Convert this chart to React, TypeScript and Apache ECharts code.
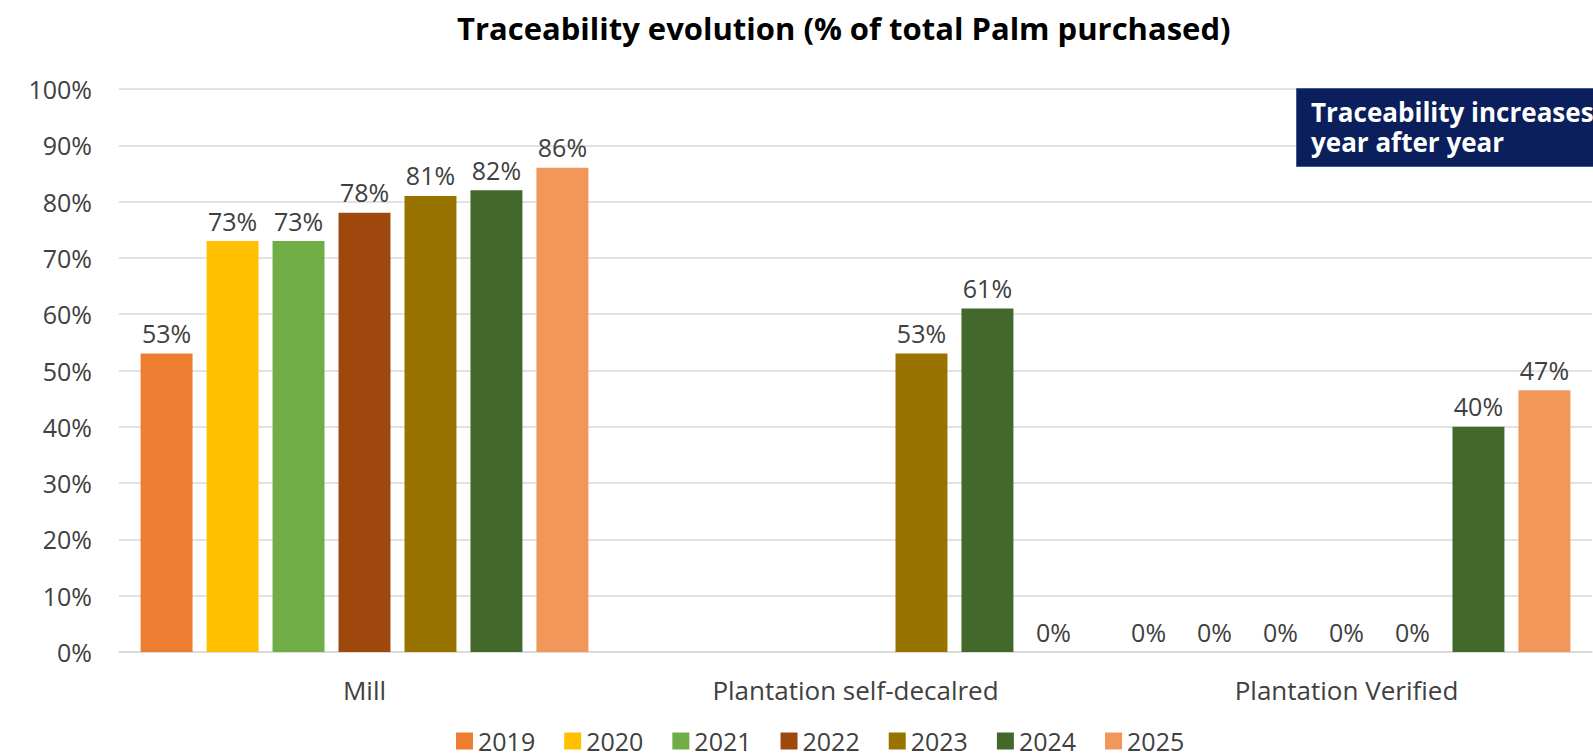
import React, { useEffect, useRef } from "react";
import * as echarts from "echarts";

const categories = ["Mill", "Plantation self-decalred", "Plantation Verified"];
const years = ["2019", "2020", "2021", "2022", "2023", "2024", "2025"];
const v2019 = [53, null, 0];
const v2020 = [73, null, 0];
const v2021 = [73, null, 0];
const v2022 = [78, null, 0];
const v2023 = [81, 53, 0];
const v2024 = [82, 61, 40];
const v2025 = [86, 0, 46.5];
const colors = ["#ED7D31", "#FFC000", "#70AD47", "#9E480E", "#997300", "#43682B", "#F1975A"];
const yTicks = { min: 0, max: 100, interval: 10 };
const titleText = "Traceability evolution (% of total Palm purchased)";
const noteLines = ["Traceability increases", "year after year"];

const FONT = "'Open Sans', 'Noto Sans', sans-serif";
const TXT = "#404040";

export default function App() {
  const ref = useRef<HTMLDivElement>(null);
  useEffect(() => {
    document.body.style.margin = "0";
    if (!ref.current) return;
    const chart = echarts.init(ref.current, null, { renderer: "svg" });
    const values = [v2019, v2020, v2021, v2022, v2023, v2024, v2025];
    chart.setOption({
      animation: false,
      textStyle: { fontFamily: FONT },
      title: {
        text: titleText,
        left: 457,
        top: 12,
        padding: 0,
        textStyle: { fontFamily: FONT, fontSize: 31, fontWeight: "bold", color: "#000" },
      },
      legend: {
        data: years,
        left: 456,
        top: 727,
        padding: 0,
        icon: "rect",
        itemWidth: 17,
        itemHeight: 17,
        itemGap: 29,
        textStyle: { fontFamily: FONT, fontSize: 25, lineHeight: 28, color: TXT },
      },
      grid: { left: 119, right: 1, top: 89, bottom: 104, containLabel: false },
      xAxis: {
        type: "category",
        data: categories,
        axisTick: { show: false },
        axisLine: { lineStyle: { color: "#d9d9d9", width: 1.5 } },
        axisLabel: { fontFamily: FONT, fontSize: 26, color: TXT, margin: 25 },
      },
      yAxis: {
        type: "value",
        min: yTicks.min,
        max: yTicks.max,
        interval: yTicks.interval,
        axisLine: { show: false },
        axisTick: { show: false },
        splitLine: { lineStyle: { color: "#d9d9d9", width: 1.5 } },
        axisLabel: { fontFamily: FONT, fontSize: 25, color: TXT, margin: 27, formatter: "{value}%" },
      },
      graphic: [
        {
          type: "rect",
          left: 1296,
          top: 88,
          shape: { width: 300, height: 78 },
          style: { fill: "#0b1f5c", stroke: "#3a5a9a", lineWidth: 1 },
          z: 10,
        },
        ...noteLines.map((t, i) => ({
          type: "text",
          left: 1311,
          top: 98 + i * 30,
          style: {
            text: t,
            fill: "#ffffff",
            font: `bold 26px ${FONT}`,
            lineHeight: 28,
          },
          z: 11,
        })),
      ],
      series: years.map((y, i) => ({
        name: y,
        type: "bar",
        data: values[i],
        barGap: "27%",
        barCategoryGap: "8.8%",
        itemStyle: { color: colors[i] },
        label: {
          show: true,
          position: "top",
          distance: 8,
          fontFamily: FONT,
          fontSize: 25,
          color: TXT,
          formatter: (p: any) => (p.value == null ? "" : Math.round(p.value) + "%"),
        },
      })),
    });
    return () => chart.dispose();
  }, []);
  return <div ref={ref} style={{ width: 1593, height: 756 }} />;
}
